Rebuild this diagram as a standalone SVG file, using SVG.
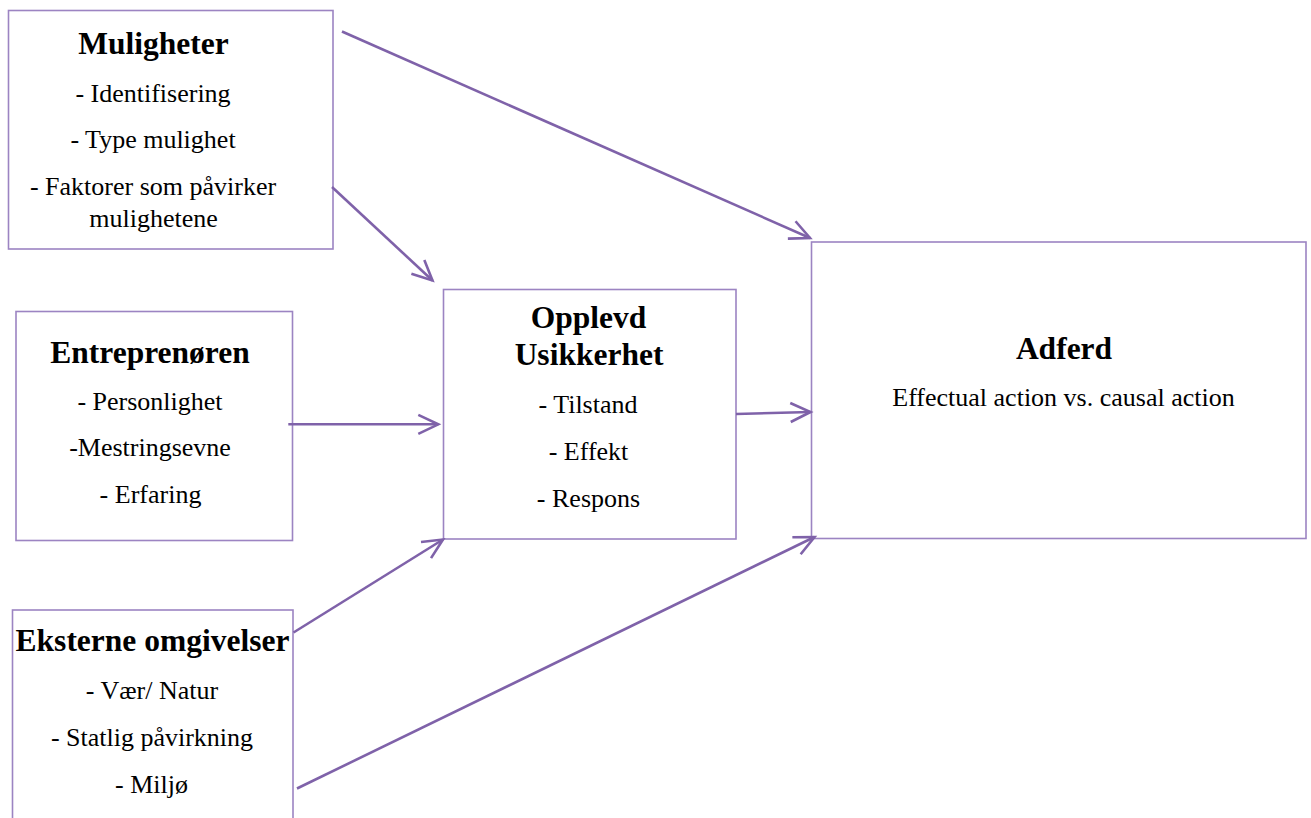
<svg xmlns="http://www.w3.org/2000/svg" width="1311" height="818" viewBox="0 0 1311 818">
<style>
.box{fill:#fff;stroke:#9C84C2;stroke-width:1.6}
.t{font-family:"Liberation Serif","Times New Roman",serif;font-size:31.5px;font-weight:bold;fill:#000;text-anchor:middle}
.b{font-family:"Liberation Serif","Times New Roman",serif;font-size:26px;fill:#000;text-anchor:middle}
.c{fill:none;stroke:#7F62A9;stroke-width:2.6;marker-end:url(#ah)}
</style>
<defs>
<marker id="ah" markerUnits="userSpaceOnUse" markerWidth="30" markerHeight="30" viewBox="-25 -15 30 30" refX="0" refY="0" orient="auto">
<path d="M-20,-9.5 L0,0 L-20,9.5" fill="none" stroke="#7F62A9" stroke-width="2.6"/>
</marker>
</defs>
<rect width="1311" height="818" fill="#fff"/>
<g id="muligheter">
<rect class="box" x="8.5" y="10.5" width="324.5" height="238.5"/>
<text class="t" x="153.5" y="54">Muligheter</text>
<text class="b" x="153" y="102">- Identifisering</text>
<text class="b" x="153" y="148">- Type mulighet</text>
<text class="b" x="153" y="195">- Faktorer som påvirker</text>
<text class="b" x="153.5" y="227">mulighetene</text>
</g>
<g id="entreprenoren">
<rect class="box" x="16" y="311.5" width="276.5" height="229"/>
<text class="t" x="150" y="362.5">Entreprenøren</text>
<text class="b" x="150" y="410">- Personlighet</text>
<text class="b" x="150" y="456">-Mestringsevne</text>
<text class="b" x="150.5" y="502.5">- Erfaring</text>
</g>
<g id="opplevd">
<rect class="box" x="443.5" y="289.5" width="292.5" height="249.5"/>
<text class="t" x="588.5" y="328">Opplevd</text>
<text class="t" x="589" y="364.5">Usikkerhet</text>
<text class="b" x="588" y="412.5">- Tilstand</text>
<text class="b" x="588.5" y="459.5">- Effekt</text>
<text class="b" x="588.5" y="506.5">- Respons</text>
</g>
<g id="adferd">
<rect class="box" x="811.5" y="242" width="494.5" height="296.5"/>
<text class="t" x="1064" y="358.5">Adferd</text>
<text class="b" x="1063.5" y="405.5">Effectual action vs. causal action</text>
</g>
<g id="eksterne">
<rect class="box" x="12.5" y="610" width="280.5" height="230"/>
<text class="t" x="152.5" y="650.5">Eksterne omgivelser</text>
<text class="b" x="152" y="698.5">- Vær/ Natur</text>
<text class="b" x="152" y="745.5">- Statlig påvirkning</text>
<text class="b" x="151.5" y="792.5">- Miljø</text>
</g>
<g id="connectors">
<line class="c" x1="342" y1="31.5" x2="810" y2="238"/>
<line class="c" x1="332" y1="187" x2="432.5" y2="280.5"/>
<line class="c" x1="288.3" y1="424.3" x2="438.3" y2="424.3"/>
<line class="c" x1="736" y1="414" x2="810.5" y2="412"/>
<line class="c" x1="293.5" y1="632.5" x2="443" y2="539.5"/>
<line class="c" x1="297" y1="788.5" x2="814.5" y2="537"/>
</g>
</svg>
